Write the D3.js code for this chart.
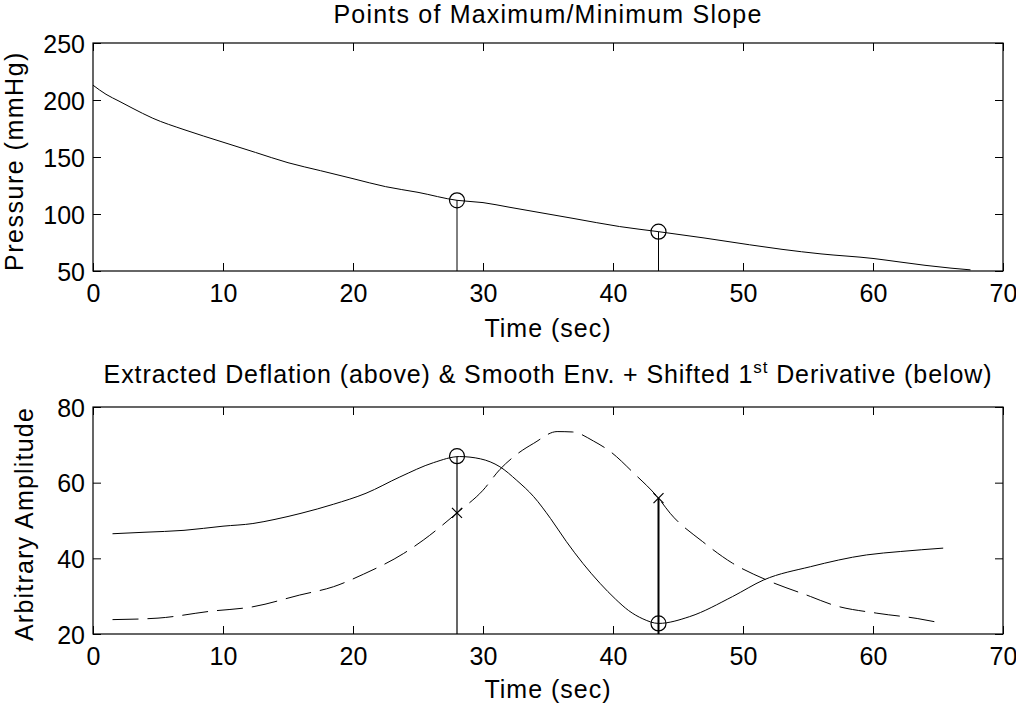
<!DOCTYPE html>
<html>
<head>
<meta charset="utf-8">
<script src="https://cdn.jsdelivr.net/npm/d3@7"></script>
<style>
  html, body { margin: 0; padding: 0; background: #fff; }
  svg { display: block; }
  text { font-family: "Liberation Sans", Arial, Helvetica, sans-serif; fill: #000; }
</style>
</head>
<body>
<svg id="chart" width="1016" height="704"></svg>
<script>
// ---------- data ----------
const xTicks = [0, 10, 20, 30, 40, 50, 60, 70];
const topYTicks = [50, 100, 150, 200, 250];
const botYTicks = [20, 40, 60, 80];

// top panel: cuff pressure deflation
const pressureTime = [0, 1, 2, 3, 4.6, 7, 10, 12.5, 15, 17.5, 20, 22.5, 25, 28, 30, 32, 34, 37, 40.5, 43.5, 47, 50.5, 53, 56, 60, 62, 64, 66, 67.5];
const pressureVals = [213, 205, 199, 193, 184, 174, 163, 154, 145, 138, 131, 124, 119, 112, 110, 106, 102, 96, 89, 84.5, 79, 73, 69, 65, 61, 58, 55, 52.5, 51];

// marked points (max/min slope)
const markTimes = [28.0, 43.5];
const markPressure = [112, 84.5];

// bottom panel: smooth envelope (solid)
const envTime = [1.5, 4, 7, 10, 12.3, 14, 16, 18.5, 21, 23.6, 26.2, 28.2, 29.8, 31.3, 32.6, 33.9, 35.2, 36.4, 37.7, 39, 40.2, 41.2, 42.3, 43.5, 45.9, 49.2, 51.6, 55.2, 59.5, 62.1, 65.4];
const envVals = [46.5, 46.9, 47.4, 48.5, 49.2, 50.3, 51.9, 54.3, 57.2, 61.5, 65.3, 66.9, 66.3, 64.2, 60.6, 56.3, 50.5, 44.5, 38.6, 33.4, 29.2, 26.2, 24, 22.8, 24.6, 29.9, 34.3, 37.8, 40.9, 41.8, 42.7];

// bottom panel: shifted 1st derivative (dashed)
const derTime = [1.5, 5, 9, 12.3, 15.9, 18.5, 20.8, 23.9, 25.4, 28.0, 30, 31.3, 32.6, 33.9, 35.7, 36.9, 38.5, 39.8, 41.6, 43.5, 44.4, 46.9, 49.2, 51.8, 55.2, 56.9, 60.3, 63.4, 65.4];
const derVals = [23.8, 24.2, 26, 27.2, 30.3, 32.5, 35.8, 41.3, 44.8, 52, 58, 63.5, 67.5, 70.4, 73.5, 73.4, 71, 68.2, 62.5, 55.9, 51.9, 44.4, 38.7, 34.3, 29.9, 27.7, 25.5, 24.1, 22.8];

const envMarks = [67, 22.8];   // circles on envelope
const derMarks = [52, 55.9];   // x marks on derivative

// ---------- layout ----------
const svg = d3.select("#chart");
const L = 93, R = 1003;
const FS = 25;

const x = d3.scaleLinear().domain([0, 70]).range([L, R]);
const yTop = d3.scaleLinear().domain([50, 250]).range([271, 43]);
const yBot = d3.scaleLinear().domain([20, 80]).range([634, 407]);

function panel(y, yTicks, top, bottom) {
  const g = svg.append("g");
  g.append("rect").attr("x", L).attr("y", top).attr("width", R - L).attr("height", bottom - top)
    .attr("fill", "none").attr("stroke", "#000").attr("stroke-width", 1.2);
  const ax = g.append("g").attr("transform", `translate(0,${bottom})`)
    .call(d3.axisBottom(x).tickValues(xTicks).tickSizeInner(-8).tickSizeOuter(0).tickPadding(0));
  ax.select(".domain").remove();
  ax.selectAll("text").attr("dy", null).attr("y", 31)
    .attr("font-size", FS).style("font-family", "'Liberation Sans', Arial, sans-serif");
  const at = g.append("g").attr("transform", `translate(0,${top})`)
    .call(d3.axisTop(x).tickValues(xTicks).tickSizeInner(-8).tickSizeOuter(0).tickFormat(""));
  at.select(".domain").remove();
  const ay = g.append("g").attr("transform", `translate(${L},0)`)
    .call(d3.axisLeft(y).tickValues(yTicks).tickSizeInner(-8).tickSizeOuter(0).tickPadding(0));
  ay.select(".domain").remove();
  ay.selectAll("text").attr("x", -8).attr("dy", "0.36em")
    .attr("font-size", FS).style("font-family", "'Liberation Sans', Arial, sans-serif");
  const ar = g.append("g").attr("transform", `translate(${R},0)`)
    .call(d3.axisRight(y).tickValues(yTicks).tickSizeInner(-8).tickSizeOuter(0).tickFormat(""));
  ar.select(".domain").remove();
  g.selectAll(".tick line").attr("stroke", "#000").attr("stroke-width", 1);
  return g;
}

// ---------- top panel ----------
const gTop = panel(yTop, topYTicks, 43, 271);

const pressureData = pressureTime.map((t, i) => [t, pressureVals[i]]);
gTop.append("path").datum(pressureData)
  .attr("fill", "none").attr("stroke", "#000").attr("stroke-width", 1)
  .attr("d", d3.line().x(d => x(d[0])).y(d => yTop(d[1])).curve(d3.curveMonotoneX));

markTimes.forEach((t, i) => {
  gTop.append("line").attr("x1", x(t)).attr("x2", x(t))
    .attr("y1", yTop(markPressure[i])).attr("y2", yTop(50))
    .attr("stroke", "#000").attr("stroke-width", 1);
  gTop.append("circle").attr("cx", x(t)).attr("cy", yTop(markPressure[i])).attr("r", 7.5)
    .attr("fill", "none").attr("stroke", "#000").attr("stroke-width", 1.2);
});

svg.append("text").attr("x", 548).attr("y", 23).attr("text-anchor", "middle")
  .attr("font-size", FS).attr("letter-spacing", 1.2).text("Points of Maximum/Minimum Slope");
svg.append("text").attr("x", 548).attr("y", 337).attr("text-anchor", "middle")
  .attr("font-size", FS).attr("letter-spacing", 1).text("Time (sec)");
svg.append("text").attr("transform", "translate(23,161) rotate(-90)").attr("text-anchor", "middle")
  .attr("font-size", FS).attr("letter-spacing", 1.5).text("Pressure (mmHg)");

// ---------- bottom panel ----------
const gBot = panel(yBot, botYTicks, 407, 634);

const envData = envTime.map((t, i) => [t, envVals[i]]);
const derData = derTime.map((t, i) => [t, derVals[i]]);
const lineB = d3.line().x(d => x(d[0])).y(d => yBot(d[1])).curve(d3.curveMonotoneX);

gBot.append("path").datum(envData)
  .attr("fill", "none").attr("stroke", "#000").attr("stroke-width", 1)
  .attr("d", lineB);
gBot.append("path").datum(derData)
  .attr("fill", "none").attr("stroke", "#000").attr("stroke-width", 1)
  .attr("stroke-dasharray", "26,9")
  .attr("d", lineB);

markTimes.forEach((t, i) => {
  const topV = Math.max(envMarks[i], derMarks[i]);
  gBot.append("line").attr("x1", x(t)).attr("x2", x(t))
    .attr("y1", yBot(topV)).attr("y2", yBot(20))
    .attr("stroke", "#000").attr("stroke-width", i === 1 ? 2 : 1.2);
  gBot.append("circle").attr("cx", x(t)).attr("cy", yBot(envMarks[i])).attr("r", 7.5)
    .attr("fill", "none").attr("stroke", "#000").attr("stroke-width", 1.2);
  const cx = x(t), cy = yBot(derMarks[i]), s = 5;
  gBot.append("path").attr("d", `M${cx - s},${cy - s}L${cx + s},${cy + s}M${cx - s},${cy + s}L${cx + s},${cy - s}`)
    .attr("stroke", "#000").attr("stroke-width", 1.2);
});

const t2 = svg.append("text").attr("x", 548).attr("y", 383).attr("text-anchor", "middle")
  .attr("font-size", FS).attr("letter-spacing", 0.9);
t2.append("tspan").text("Extracted Deflation (above) & Smooth Env. + Shifted 1");
t2.append("tspan").attr("font-size", 17).attr("dy", -10).text("st");
t2.append("tspan").attr("dy", 10).text(" Derivative (below)");

svg.append("text").attr("x", 548).attr("y", 698).attr("text-anchor", "middle")
  .attr("font-size", FS).attr("letter-spacing", 1).text("Time (sec)");
svg.append("text").attr("transform", "translate(33,524) rotate(-90)").attr("text-anchor", "middle")
  .attr("font-size", FS).attr("letter-spacing", 1.2).text("Arbitrary Amplitude");
</script>
</body>
</html>
